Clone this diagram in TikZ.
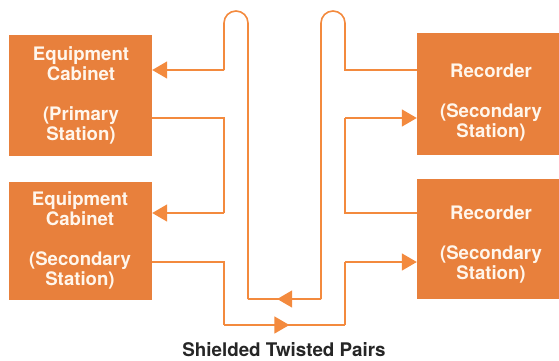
\documentclass[tikz,border=0pt]{standalone}
\usepackage{fontspec}
\setmainfont{TeX Gyre Heros}
\usetikzlibrary{arrows.meta,decorations.markings}

\definecolor{boxorange}{HTML}{E8803C}
\definecolor{wireorange}{HTML}{F38A3E}
\definecolor{labelwhite}{HTML}{FFF6EC}
\definecolor{titlegray}{HTML}{262626}

\tikzset{
  unit/.style={draw=none, fill=boxorange, rectangle, inner sep=0pt},
  unittext/.style={text=labelwhite, font=\fontsize{18.6}{20}\selectfont\bfseries,
    align=center, anchor=north, inner sep=0pt},
  wire/.style={draw=wireorange, line width=1.6pt, line join=miter},
  tip/.style={-{Triangle[length=15pt,width=17pt]}, wireorange},
  midtip/.style={postaction={decorate},
    decoration={markings, mark=at position #1 with
      {\arrow[wireorange]{Triangle[length=15pt,width=17pt]}}}},
}

\begin{document}
\begin{tikzpicture}[x=1pt,y=-1pt]
  \useasboundingbox (0,0) rectangle (559,360);

  % station boxes
  \node[unit, minimum width=143pt, minimum height=121pt] (eqA) at (80.5,95.5) {};
  \node[unit, minimum width=143pt, minimum height=118pt] (eqB) at (80.5,241) {};
  \node[unit, minimum width=142pt, minimum height=122pt] (recA) at (488,94) {};
  \node[unit, minimum width=142pt, minimum height=120pt] (recB) at (488,239) {};

  % box labels
  \node[unittext] (eqAtxt) at (81,46) {Equipment\\Cabinet\\[20pt](Primary\\Station)};
  \node[unittext] (eqBtxt) at (80,191) {Equipment\\Cabinet\\[20pt](Secondary\\Station)};
  \node[unittext] (recAtxt) at (491,64) {Recorder\\[20pt](Secondary\\Station)};
  \node[unittext] (recBtxt) at (491,206) {Recorder\\[20pt](Secondary\\Station)};

  % wire heights
  \coordinate (h70) at (0,70);
  \coordinate (h118) at (0,118);
  \coordinate (h213) at (0,213);
  \coordinate (h262) at (0,262);

  % wire corners
  \coordinate (la) at (224,23);
  \coordinate (lb) at (248,23);
  \coordinate (ra) at (321,23);
  \coordinate (rb) at (345,23);
  \coordinate (loopL) at (248,299);
  \coordinate (loopR) at (321,299);
  \coordinate (lowL) at (224,325);
  \coordinate (lowR) at (345,325);

  % pair looping over the top between the first recorder and the primary cabinet
  \draw[wire] (recA.west |- h70) -- (rb |- h70) -- (rb)
    arc[start angle=0, end angle=180, radius=12pt]
    -- (loopR);
  \draw[wire, midtip=0.6] (loopR) -- (loopL);
  \draw[wire] (loopL) -- (lb)
    arc[start angle=0, end angle=180, radius=12pt]
    -- (la |- h70);
  \draw[wire, tip] (la |- h70) -- (eqA.east |- h70);

  % primary cabinet to secondary cabinet
  \draw[wire] (eqA.east |- h118) -- (la |- h118) -- (la |- h213);
  \draw[wire, tip] (la |- h213) -- (eqB.east |- h213);

  % second recorder to first recorder
  \draw[wire] (recB.west |- h213) -- (rb |- h213) -- (rb |- h118);
  \draw[wire, tip] (rb |- h118) -- (recA.west |- h118);

  % secondary cabinet to second recorder along the bottom
  \draw[wire] (eqB.east |- h262) -- (la |- h262) -- (lowL);
  \draw[wire, midtip=0.54] (lowL) -- (lowR);
  \draw[wire] (lowR) -- (rb |- h262);
  \draw[wire, tip] (rb |- h262) -- (recB.west |- h262);

  % caption
  \node[text=titlegray, font=\fontsize{18.8}{21}\selectfont\bfseries, inner sep=0pt]
    (caption) at (284,349.5) {Shielded Twisted Pairs};
\end{tikzpicture}
\end{document}
